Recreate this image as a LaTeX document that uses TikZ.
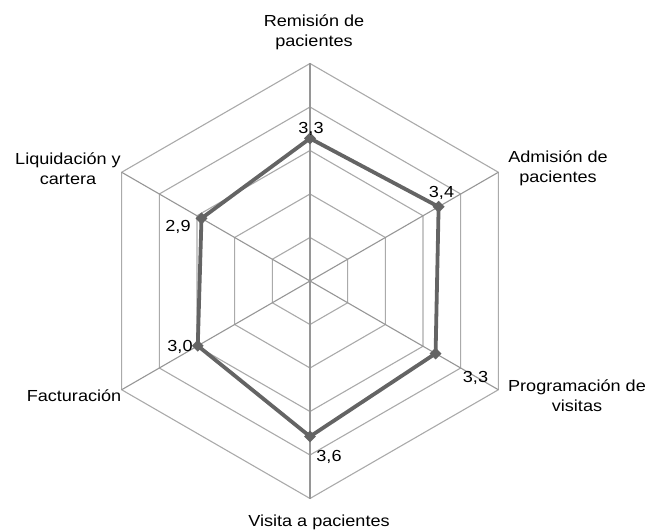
\documentclass[tikz,border=0pt]{standalone}
\usepackage{fontspec}
\setmainfont[FakeStretch=1.13]{Liberation Sans}
\usetikzlibrary{shapes.geometric}
\definecolor{gridgray}{RGB}{170,170,170}
\definecolor{axisgray}{RGB}{150,150,150}
\definecolor{seriesgray}{RGB}{100,100,100}
\tikzset{
  gridline/.style={draw=gridgray, line width=1.1bp},
  axisline/.style={draw=axisgray, line width=1.1bp},
  seriesline/.style={draw=seriesgray, line width=3.8bp, line join=round},
  marker/.style={diamond, fill=seriesgray, inner sep=0pt, minimum width=12bp, minimum height=12bp},
  lbl/.style={font=\fontsize{16bp}{20bp}\selectfont, text=black, inner sep=0pt, anchor=base, align=center},
  val/.style={font=\fontsize{16bp}{20bp}\selectfont, text=black, inner sep=0pt, anchor=base}
}
\begin{document}
\begin{tikzpicture}[x=1bp, y=-1bp]
\useasboundingbox (0,0) rectangle (661,532);
\begin{scope}[shift={(310,281)}]
  \coordinate (O) at (0,0);
  \foreach \k in {1,...,5} {
    \pgfmathsetmacro{\r}{43.5*\k}
    \draw[gridline] (-90:\r) -- (-30:\r) -- (30:\r) -- (90:\r) -- (150:\r) -- (210:\r) -- cycle;
  }
  \foreach \a/\n in {-90/a1,-30/a2,30/a3,90/a4,150/a5,210/a6} {
    \coordinate (\n) at (\a:217.5);
    \draw[axisline] (O) -- (\n);
  }
  \coordinate (p1) at (-90:142.6);
  \coordinate (p2) at (-30:148.5);
  \coordinate (p3) at (30:145);
  \coordinate (p4) at (90:155.5);
  \coordinate (p5) at (150:129.6);
  \coordinate (p6) at (210:125.3);
  \draw[seriesline] (p1) -- (p2) -- (p3) -- (p4) -- (p5) -- (p6) -- cycle;
  \foreach \i in {1,...,6} { \node[marker] (m\i) at (p\i) {}; }
\end{scope}
% value labels
\node[val] (v1) at (311,134) {3,3};
\node[val] (v2) at (441.5,198) {3,4};
\node[val] (v3) at (475.5,382.7) {3,3};
\node[val] (v4) at (329,461.7) {3,6};
\node[val] (v5) at (180,351.7) {3,0};
\node[val] (v6) at (178,231.7) {2,9};
% category labels (base = baseline of last line)
\node[lbl] (c1) at (314,46.7) {Remisión de\\pacientes};
\node[lbl] (c2) at (558,183) {Admisión de\\pacientes};
\node[lbl] (c3) at (577,411.7) {Programación de\\visitas};
\node[lbl] (c4) at (319,526.7) {Visita a pacientes};
\node[lbl] (c5) at (74,401.7) {Facturación};
\node[lbl] (c6) at (68,185) {Liquidación y\\cartera};
\end{tikzpicture}
\end{document}
